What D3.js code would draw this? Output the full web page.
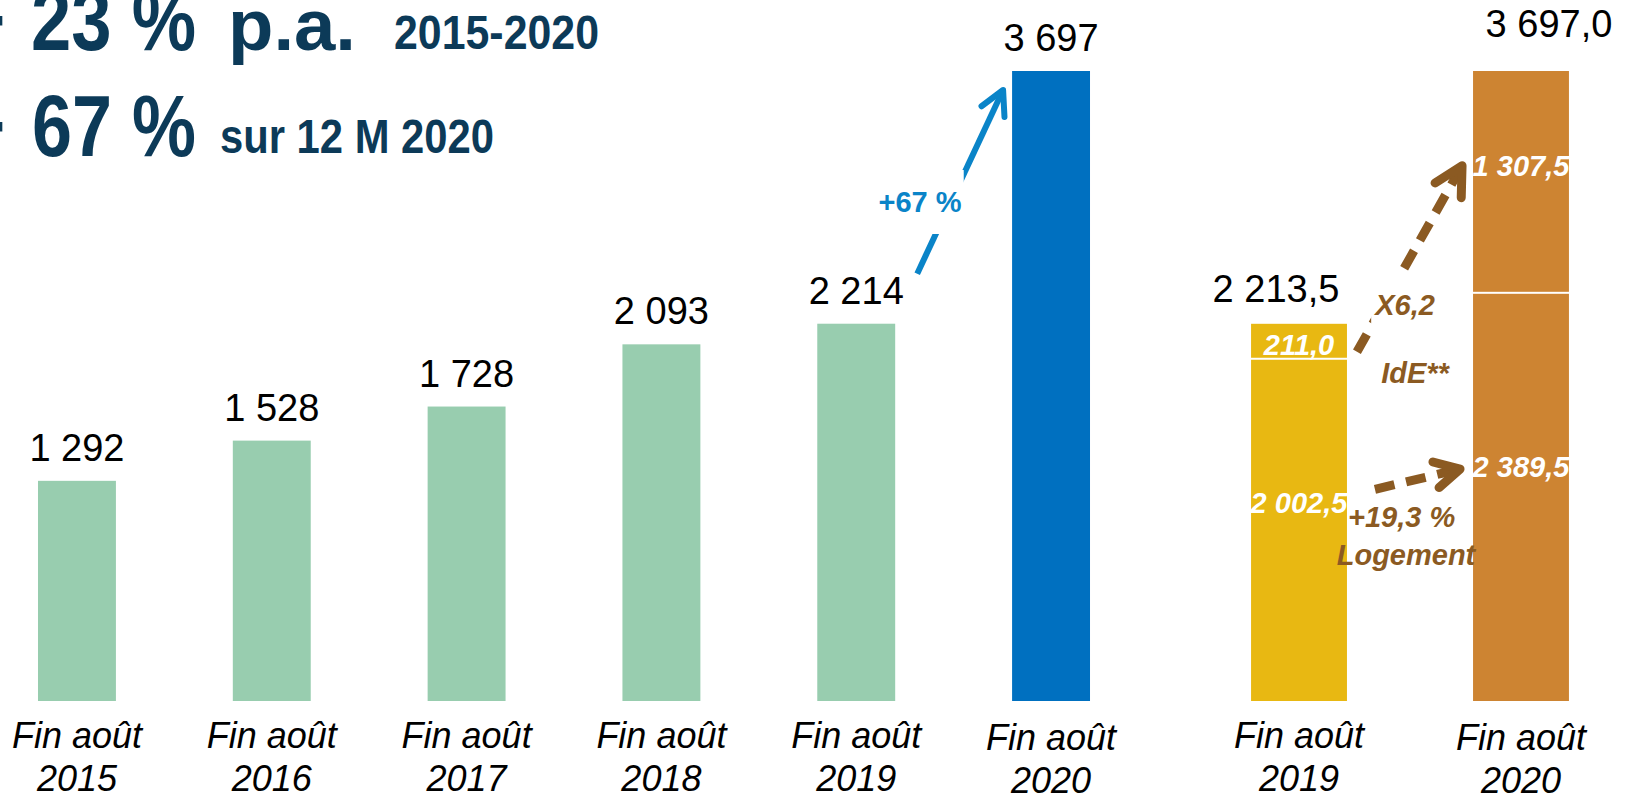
<!DOCTYPE html>
<html>
<head>
<meta charset="utf-8">
<script src="https://cdn.jsdelivr.net/npm/d3@7"></script>
<style>
  html, body { margin: 0; padding: 0; background: #fff; }
  svg { display: block; font-family: 'Liberation Sans', Arial, sans-serif; }
</style>
</head>
<body>
<div id="chart"></div>
<script>
// Encours total, fin août de chaque année
const years = ['2015', '2016', '2017', '2018', '2019', '2020']
const totals = [1292, 1528, 1728, 2093, 2214, 3697]
const totalLabels = ['1 292', '1 528', '1 728', '2 093', '2 214', '3 697']

// Détail 2019 / 2020 : logement + IdE
const splitYears = ['2019', '2020']
const logement = [2002.5, 2389.5]
const ide = [211.0, 1307.5]
const logementLabels = ['2 002,5', '2 389,5']
const ideLabels = ['211,0', '1 307,5']
const splitTotalLabels = ['2 213,5', '3 697,0']

const tickPrefix = 'Fin août'

// Vars for dimensions
const width = 1626
const height = 798
const baseY = 701
const topY = 71

const navy = '#0c3a58'
const green = '#98cdaf'
const blue = '#0070c0'
const arrowBlue = '#0a84c8'
const yellow = '#e8b812'
const orange = '#cd8432'
const brown = '#8b5a22'

const svg = d3.select('#chart')
  .append('svg')
  .attr('width', width)
  .attr('height', height)

// Scales
const y = d3.scaleLinear().domain([0, d3.max(totals)]).range([baseY, topY])
const x = d3.scaleBand().domain(years).range([0, 1128]).paddingInner(0.6).paddingOuter(0.195)
const x2 = d3.scaleBand().domain(splitYears).range([1200, 1620]).paddingInner(0.568).paddingOuter(0.23)

// Titles (the top line is cut by the frame, as in the source slide)
const titles = svg.append('g').attr('fill', navy).attr('font-weight', 'bold')
titles.append('text').attr('x', 6).attr('y', 50).attr('text-anchor', 'end').attr('font-size', 88).text('+')
titles.append('text').attr('x', 6).attr('y', 156).attr('text-anchor', 'end').attr('font-size', 88).text('+')
titles.append('text').attr('x', 31).attr('y', 50).attr('font-size', 88)
  .attr('textLength', 165).attr('lengthAdjust', 'spacingAndGlyphs').text('23 %')
titles.append('text').attr('x', 228).attr('y', 50).attr('font-size', 72)
  .attr('textLength', 128).attr('lengthAdjust', 'spacingAndGlyphs').text('p.a.')
titles.append('text').attr('x', 394).attr('y', 49).attr('font-size', 48)
  .attr('textLength', 205).attr('lengthAdjust', 'spacingAndGlyphs').text('2015-2020')
titles.append('text').attr('x', 32).attr('y', 156).attr('font-size', 88)
  .attr('textLength', 164).attr('lengthAdjust', 'spacingAndGlyphs').text('67 %')
titles.append('text').attr('x', 220).attr('y', 153).attr('font-size', 48)
  .attr('textLength', 274).attr('lengthAdjust', 'spacingAndGlyphs').text('sur 12 M 2020')

// Bottom axes - two-line year labels
function yearAxis(scale, offsets) {
  const ax = svg.append('g')
    .attr('transform', `translate(0, ${baseY})`)
    .call(d3.axisBottom(scale).tickSize(0).tickPadding(0))
    .attr('font-family', null)
    .attr('font-size', null)
  ax.select('.domain').remove()
  ax.selectAll('.tick text')
    .attr('dy', null)
    .attr('y', null)
    .attr('fill', '#000')
    .attr('font-size', 36)
    .attr('font-style', 'italic')
    .text(null)
    .each(function (d, i) {
      const t = d3.select(this)
      const off = offsets ? offsets[i] : 0
      t.append('tspan').attr('x', 0).attr('y', 47 + off).text(tickPrefix)
      t.append('tspan').attr('x', 0).attr('y', 90 + off).text(d)
    })
}
yearAxis(x, [0, 0, 0, 0, 0, 2])
yearAxis(x2, [0, 2])

// Left bars
const leftData = years.map((yr, i) => ({ year: yr, value: totals[i], label: totalLabels[i] }))

svg.append('g')
  .selectAll('rect')
  .data(leftData)
  .join('rect')
  .attr('x', d => x(d.year))
  .attr('y', d => y(d.value))
  .attr('width', x.bandwidth())
  .attr('height', d => y(0) - y(d.value))
  .attr('fill', (d, i) => i === leftData.length - 1 ? blue : green)

svg.append('g')
  .attr('font-size', 38)
  .attr('text-anchor', 'middle')
  .selectAll('text')
  .data(leftData)
  .join('text')
  .attr('x', d => x(d.year) + x.bandwidth() / 2)
  .attr('y', d => y(d.value) - 20)
  .text(d => d.label)

// Right stacked bars
const splitData = splitYears.map((yr, i) => ({ year: yr, logement: logement[i], ide: ide[i] }))
const series = d3.stack().keys(['logement', 'ide'])(splitData)
const splitColor = d3.scaleOrdinal().domain(splitYears).range([yellow, orange])
const segLabels = { logement: logementLabels, ide: ideLabels }

series.forEach(s => {
  svg.append('g')
    .selectAll('rect')
    .data(s)
    .join('rect')
    .attr('x', d => x2(d.data.year))
    .attr('y', d => y(d[1]))
    .attr('width', x2.bandwidth())
    .attr('height', d => y(d[0]) - y(d[1]) - (s.key === 'ide' ? 2 : 0))
    .attr('fill', d => splitColor(d.data.year))
})

function segLabelY(d) {
  const top = y(d[1])
  const bottom = y(d[0])
  const h = bottom - top
  return h < 50 ? bottom - 5 : top + h * (d[0] === 0 ? 0.45 : 0.47)
}

series.forEach(s => {
  svg.append('g')
    .attr('fill', '#fff')
    .attr('font-size', 29)
    .attr('font-weight', 'bold')
    .attr('font-style', 'italic')
    .attr('text-anchor', 'middle')
    .selectAll('text')
    .data(s)
    .join('text')
    .attr('x', d => x2(d.data.year) + x2.bandwidth() / 2)
    .attr('y', d => segLabelY(d))
    .text((d, i) => segLabels[s.key][i])
})

// Totals above the stacked bars
svg.append('g')
  .attr('font-size', 38)
  .attr('text-anchor', 'middle')
  .selectAll('text')
  .data(splitData)
  .join('text')
  .attr('x', (d, i) => x2(d.year) + x2.bandwidth() / 2 + (i === 0 ? -23 : 28))
  .attr('y', (d, i) => y(d.logement + d.ide) - (i === 0 ? 22 : 34))
  .text((d, i) => splitTotalLabels[i])

// Arrows
function arrow(x1, y1, xTip, yTip, color, w, head, dash) {
  const g = svg.append('g')
  const ang = Math.atan2(yTip - y1, xTip - x1)
  const back = w * 0.6
  g.append('line')
    .attr('x1', x1).attr('y1', y1)
    .attr('x2', xTip - back * Math.cos(ang)).attr('y2', yTip - back * Math.sin(ang))
    .attr('stroke', color)
    .attr('stroke-width', w)
    .attr('stroke-dasharray', dash)
  const s = Math.PI * 28 / 180
  const p1 = [xTip - head * Math.cos(ang - s), yTip - head * Math.sin(ang - s)]
  const p2 = [xTip - head * Math.cos(ang + s), yTip - head * Math.sin(ang + s)]
  g.append('path')
    .attr('d', `M${p1}L${xTip},${yTip}L${p2}`)
    .attr('fill', 'none')
    .attr('stroke', color)
    .attr('stroke-width', w)
    .attr('stroke-linecap', 'round')
    .attr('stroke-linejoin', 'round')
}

// Text with a white block behind it, cutting the arrow line
function cutText(tx, ty, str, color, italic, padY) {
  const g = svg.append('g')
  const rect = g.append('rect').attr('fill', '#fff')
  const t = g.append('text')
    .attr('x', tx).attr('y', ty)
    .attr('text-anchor', 'middle')
    .attr('font-size', 29)
    .attr('font-weight', 'bold')
    .attr('font-style', italic ? 'italic' : null)
    .attr('fill', color)
    .text(str)
  const b = t.node().getBBox()
  rect.attr('x', b.x - 2).attr('y', b.y - padY).attr('width', b.width + 4).attr('height', b.height + padY * 2)
}

// +67 % : 2019 -> 2020
const x2019 = x('2019') + x.bandwidth() / 2
const x2020 = x('2020')
arrow(x2019 + 61, y(2214) - 50, x2020 - 9, y(3697) + 19, arrowBlue, 6, 27, null)
cutText(920, 212, '+67 %', arrowBlue, false, 16)

// IdE : x6,2
const r2019 = x2('2019') + x2.bandwidth()
const l2020 = x2('2020')
const ideSeg = series[1]
const logSeg = series[0]
arrow(r2019 + 10, y(ideSeg[0][1]) + 28, l2020 - 11, segLabelY(ideSeg[1]) - 10, brown, 9, 32, '20,12')
cutText(1405, 315, 'X6,2', brown, true, 18)
svg.append('text')
  .attr('x', 1415).attr('y', 383)
  .attr('text-anchor', 'middle')
  .attr('font-size', 29).attr('font-weight', 'bold').attr('font-style', 'italic')
  .attr('fill', brown)
  .text('IdE**')

// Logement : +19,3 %
arrow(r2019 + 28, segLabelY(logSeg[0]) - 24, l2020 - 13, segLabelY(logSeg[1]) - 8, brown, 9, 28, '20,12')
svg.append('text')
  .attr('x', 1348).attr('y', 527)
  .attr('font-size', 29).attr('font-weight', 'bold').attr('font-style', 'italic')
  .attr('fill', brown)
  .text('+19,3 %')
svg.append('text')
  .attr('x', 1406).attr('y', 565)
  .attr('text-anchor', 'middle')
  .attr('font-size', 29).attr('font-weight', 'bold').attr('font-style', 'italic')
  .attr('fill', brown)
  .text('Logement')
</script>
</body>
</html>
